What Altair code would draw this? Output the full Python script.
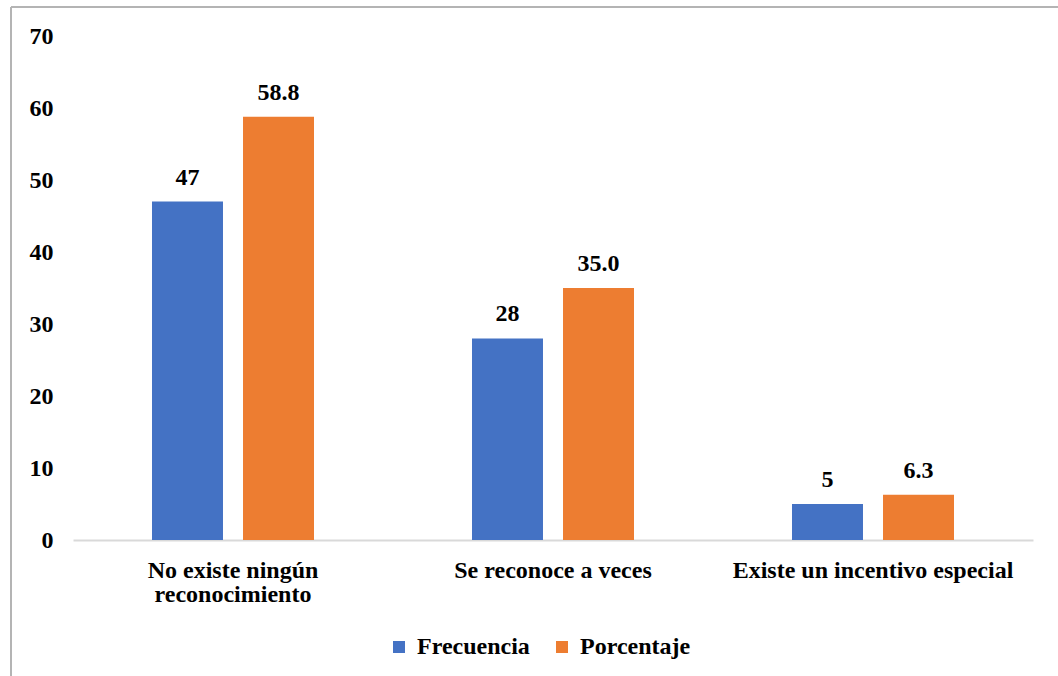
import altair as alt
import pandas as pd

# Survey answers and their counts / shares
categories = ["No existe ningún reconocimiento", "Se reconoce a veces", "Existe un incentivo especial"]
frecuencia = [47, 28, 5]
porcentaje = [58.8, 35.0, 6.3]
series = ["Frecuencia", "Porcentaje"]
colors = ["#4472C4", "#ED7D31"]
y_ticks = [0, 10, 20, 30, 40, 50, 60, 70]

rows = []
for cat, f, p in zip(categories, frecuencia, porcentaje):
    rows.append({"categoria": cat, "serie": "Frecuencia", "valor": f, "etiqueta": f"{f:d}"})
    rows.append({"categoria": cat, "serie": "Porcentaje", "valor": p, "etiqueta": f"{p:.1f}"})
df = pd.DataFrame(rows)

FONT = "'Liberation Serif', 'Times New Roman', Times, serif"
FS = 24

x_enc = alt.X(
    "categoria:N",
    sort=categories,
    title=None,
    scale=alt.Scale(paddingInner=0, paddingOuter=0),
    axis=alt.Axis(
        labelAngle=0,
        labelFont=FONT,
        labelFontSize=FS,
        labelFontWeight="bold",
        labelColor="#000000",
        labelPadding=18,
        labelLineHeight=24,
        labelLimit=0,
        labelExpr="datum.label == 'No existe ningún reconocimiento' ? ['No existe ningún', 'reconocimiento'] : datum.label",
        ticks=False,
        tickSize=0,
        domain=True,
        domainColor="#D9D9D9",
        domainWidth=2,
        grid=False,
    ),
)
xoff_enc = alt.XOffset(
    "serie:N",
    sort=series,
    scale=alt.Scale(paddingInner=0.22, paddingOuter=0.868),
)
y_enc = alt.Y(
    "valor:Q",
    title=None,
    scale=alt.Scale(domain=[0, 70], nice=False),
    axis=alt.Axis(
        values=y_ticks,
        labelFont=FONT,
        labelFontSize=FS,
        labelFontWeight="bold",
        labelColor="#000000",
        labelPadding=20,
        ticks=False,
        tickSize=0,
        domain=False,
        grid=False,
    ),
)

bars = alt.Chart(df).mark_bar().encode(
    x=x_enc,
    xOffset=xoff_enc,
    y=y_enc,
    color=alt.Color(
        "serie:N",
        sort=series,
        scale=alt.Scale(domain=series, range=colors),
        legend=alt.Legend(
            title=None,
            orient="none",
            legendX=314,
            legendY=599,
            direction="horizontal",
            columns=2,
            columnPadding=20,
            symbolType="square",
            symbolSize=144,
            symbolStrokeWidth=0,
            labelFont=FONT,
            labelFontSize=FS,
            labelFontWeight="bold",
            labelColor="#000000",
            labelOffset=6,
            labelLimit=0,
        ),
    ),
)

labels = alt.Chart(df).mark_text(
    font=FONT,
    fontSize=FS,
    fontWeight="bold",
    color="#000000",
    baseline="alphabetic",
    dy=-17,
).encode(
    x=alt.X("categoria:N", sort=categories),
    xOffset=alt.XOffset("serie:N", sort=series),
    y="valor:Q",
    text="etiqueta:N",
)

# Thin outer frame along the top and left edges
frame = alt.Data(values=[{"k": 0}])
frame_left = alt.Chart(frame).mark_rule(color="#B4B4B4", strokeWidth=2).encode(
    x=alt.value(-62), y=alt.value(-29), y2=alt.value(645)
)
frame_top = alt.Chart(frame).mark_rule(color="#B4B4B4", strokeWidth=2).encode(
    x=alt.value(-62), x2=alt.value(990), y=alt.value(-29)
)

chart = (
    alt.layer(frame_left, frame_top, bars, labels)
    .properties(
        width=960,
        height=504,
        autosize=alt.AutoSizeParams(type="none"),
        padding={"left": 73, "top": 36, "right": 25, "bottom": 136},
        background="#FFFFFF",
    )
    .configure_view(stroke=None)
)

chart.save("out.html", embed_options={"renderer": "svg", "actions": False})
